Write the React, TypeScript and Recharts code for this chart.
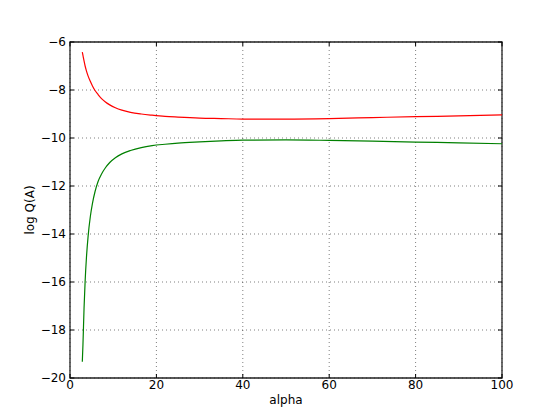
import { LineChart, Line, XAxis, YAxis, CartesianGrid, ReferenceArea } from "recharts";

const alpha = [2.85, 3, 3.25, 3.5, 3.8, 4.2, 4.7, 5.2, 5.8, 6.5, 7.3, 8.2, 9.2, 10.5, 12, 14, 16.5, 19, 22, 25, 30, 35, 40, 50, 60, 70, 80, 90, 100];
const upper = [-6.42, -6.56, -6.79, -7.0, -7.2, -7.42, -7.64, -7.83, -8.02, -8.19, -8.36, -8.5, -8.62, -8.74, -8.84, -8.93, -9.0, -9.05, -9.1, -9.13, -9.17, -9.19, -9.21, -9.21, -9.19, -9.15, -9.11, -9.08, -9.04];
const lower = [-19.32, -18.6, -17.1, -15.98, -15.0, -14.08, -13.28, -12.72, -12.23, -11.81, -11.5, -11.24, -11.02, -10.82, -10.66, -10.52, -10.4, -10.32, -10.26, -10.21, -10.16, -10.12, -10.09, -10.08, -10.1, -10.13, -10.17, -10.2, -10.24];
const xTicks = [0, 20, 40, 60, 80, 100];
const yTicks = [-20, -18, -16, -14, -12, -10, -8, -6];

const data = alpha.map((a, i) => ({ alpha: a, upper: upper[i], lower: lower[i] }));

const W = 558;
const H = 419;
const LEFT = 70;
const RIGHT = 502;
const TOP = 42;
const BOTTOM = 378;
const FONT = "'DejaVu Sans', sans-serif";

const fmt = (v: number) => String(v).replace("-", "\u2212");

const XTick = ({ x, payload }: any) => (
  <g>
    <line x1={x} x2={x} y1={BOTTOM} y2={BOTTOM - 4} stroke="#000" />
    <line x1={x} x2={x} y1={TOP} y2={TOP + 4} stroke="#000" />
    <text x={x} y={380} dy="0.71em" textAnchor="middle" fontSize={12} fontFamily={FONT} fill="#000">
      {fmt(payload.value)}
    </text>
  </g>
);

const YTick = ({ y, payload }: any) => (
  <g>
    <line x1={LEFT} x2={LEFT + 4} y1={y} y2={y} stroke="#000" />
    <line x1={RIGHT} x2={RIGHT - 4} y1={y} y2={y} stroke="#000" />
    <text x={66} y={y} dy="0.35em" textAnchor="end" fontSize={12} fontFamily={FONT} fill="#000">
      {fmt(payload.value)}
    </text>
  </g>
);

export default function App() {
  return (
    <div style={{ position: "absolute", left: 0, top: 0, width: W, height: H, background: "#fff" }}>
      <LineChart width={W} height={H} data={data} margin={{ top: TOP, right: W - RIGHT, bottom: 0, left: 0 }}>
        <CartesianGrid stroke="#000" strokeDasharray="1 3" strokeWidth={1} strokeOpacity={0.5} />
        <XAxis
          dataKey="alpha"
          type="number"
          domain={[0, 100]}
          ticks={xTicks}
          height={H - BOTTOM}
          axisLine={false}
          tickLine={false}
          tick={<XTick />}
          label={{
            content: () => (
              <text x={(LEFT + RIGHT) / 2} y={404} textAnchor="middle" fontSize={12} fontFamily={FONT} fill="#000">
                alpha
              </text>
            ),
          }}
        />
        <YAxis
          type="number"
          domain={[-20, -6]}
          ticks={yTicks}
          width={LEFT}
          axisLine={false}
          tickLine={false}
          tick={<YTick />}
          label={{
            content: () => (
              <text
                x={34}
                y={(TOP + BOTTOM) / 2}
                transform={`rotate(-90 34 ${(TOP + BOTTOM) / 2})`}
                textAnchor="middle"
                fontSize={12}
                fontFamily={FONT}
                fill="#000"
              >
                log Q(A)
              </text>
            ),
          }}
        />
        <ReferenceArea x1={0} x2={100} y1={-20} y2={-6} fill="none" stroke="#222" strokeWidth={1.3} />
        <Line type="monotone" dataKey="upper" stroke="#ff0000" strokeWidth={1.2} dot={false} isAnimationActive={false} />
        <Line type="monotone" dataKey="lower" stroke="#008000" strokeWidth={1.2} dot={false} isAnimationActive={false} />
      </LineChart>
    </div>
  );
}
